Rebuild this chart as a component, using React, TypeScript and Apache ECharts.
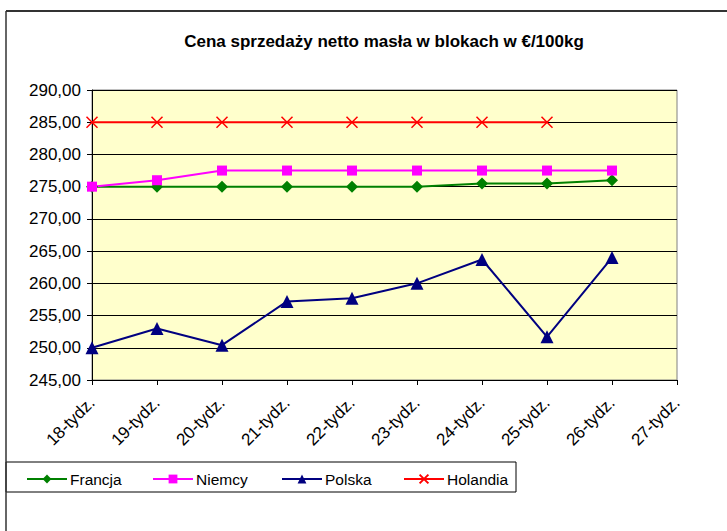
import React, { useEffect, useRef } from "react";
import * as echarts from "echarts";

const categories = [
  "18-tydz.", "19-tydz.", "20-tydz.", "21-tydz.", "22-tydz.",
  "23-tydz.", "24-tydz.", "25-tydz.", "26-tydz.", "27-tydz.",
];
const francja = [275, 275, 275, 275, 275, 275, 275.5, 275.5, 276];
const niemcy = [275, 276, 277.5, 277.5, 277.5, 277.5, 277.5, 277.5, 277.5];
const polska = [250, 253, 250.4, 257.2, 257.7, 260, 263.7, 251.7, 264];
const holandia = [285, 285, 285, 285, 285, 285, 285, 285];

const titleText = "Cena sprzedaży netto masła w blokach w €/100kg";
const FONT = "'Liberation Sans', Arial, sans-serif";

export default function App() {
  const ref = useRef<HTMLDivElement>(null);
  useEffect(() => {
    if (!ref.current) return;
    const chart = echarts.init(ref.current, null, { renderer: "svg" });
    const legendItem = (name: string, left: number) => ({
      data: [name],
      left,
      top: 471,
      padding: 0,
      itemWidth: 40,
      itemHeight: 11,
      itemGap: 3,
      textStyle: { fontFamily: FONT, fontSize: 15.5, color: "#000", padding: [0, 0, 0, -2] },
    });
    chart.setOption({
      animation: false,
      backgroundColor: "#ffffff",
      title: {
        text: titleText,
        left: 379,
        textAlign: "center",
        top: 28,
        textStyle: { fontFamily: FONT, fontSize: 17, fontWeight: "bold", color: "#000" },
      },
      grid: {
        left: 92,
        right: 50,
        top: 90,
        bottom: 151,
        show: true,
        backgroundColor: "#FFFFCC",
        borderColor: "#808080",
        borderWidth: 1,
      },
      legend: [
        legendItem("Francja", 26),
        legendItem("Niemcy", 152),
        legendItem("Polska", 281),
        legendItem("Holandia", 403),
      ],
      xAxis: {
        type: "category",
        data: categories,
        boundaryGap: false,
        axisLine: { lineStyle: { color: "#000", width: 1 } },
        axisTick: { show: true, length: 5, alignWithLabel: true, lineStyle: { color: "#000" } },
        axisLabel: {
          rotate: 45,
          interval: 0,
          margin: 20,
          fontFamily: FONT,
          fontSize: 17,
          color: "#000",
        },
        splitLine: { show: false },
      },
      yAxis: {
        type: "value",
        min: 245,
        max: 290,
        interval: 5,
        axisLine: { show: true, lineStyle: { color: "#000", width: 1 } },
        axisTick: { show: true, length: 5, lineStyle: { color: "#000" } },
        axisLabel: {
          margin: 11,
          fontFamily: FONT,
          fontSize: 17,
          color: "#000",
          formatter: (v: number) => v.toFixed(2).replace(".", ","),
        },
        splitLine: { show: true, lineStyle: { color: "#000", width: 1 } },
      },
      series: [
        {
          name: "Francja",
          type: "line",
          data: francja,
          symbol: "diamond",
          symbolSize: 12,
          lineStyle: { color: "#008000", width: 2 },
          itemStyle: { color: "#008000" },
        },
        {
          name: "Niemcy",
          type: "line",
          data: niemcy,
          symbol: "rect",
          symbolSize: 10,
          lineStyle: { color: "#FF00FF", width: 2 },
          itemStyle: { color: "#FF00FF" },
        },
        {
          name: "Polska",
          type: "line",
          data: polska,
          symbol: "triangle",
          symbolSize: 13,
          lineStyle: { color: "#000080", width: 2 },
          itemStyle: { color: "#000080" },
        },
        {
          name: "Holandia",
          type: "line",
          data: holandia,
          symbol: "path://M0,0L10,10M10,0L0,10",
          symbolSize: 11,
          lineStyle: { color: "#FF0000", width: 2 },
          itemStyle: { color: "#FF0000", borderColor: "#FF0000", borderWidth: 1.5 },
        },
      ],
      graphic: [
        {
          type: "line",
          shape: { x1: 6, y1: 11, x2: 727, y2: 11 },
          style: { stroke: "#333", lineWidth: 2 },
        },
        {
          type: "line",
          shape: { x1: 6, y1: 11, x2: 6, y2: 531 },
          style: { stroke: "#333", lineWidth: 1.5 },
        },
        {
          type: "rect",
          shape: { x: 6, y: 462, width: 510, height: 30 },
          style: { fill: "none", stroke: "#000", lineWidth: 1 },
          z: -1,
        },
      ],
    });
    return () => chart.dispose();
  }, []);
  return (
    <div
      ref={ref}
      style={{ position: "absolute", left: 0, top: 0, width: 727, height: 531 }}
    />
  );
}
